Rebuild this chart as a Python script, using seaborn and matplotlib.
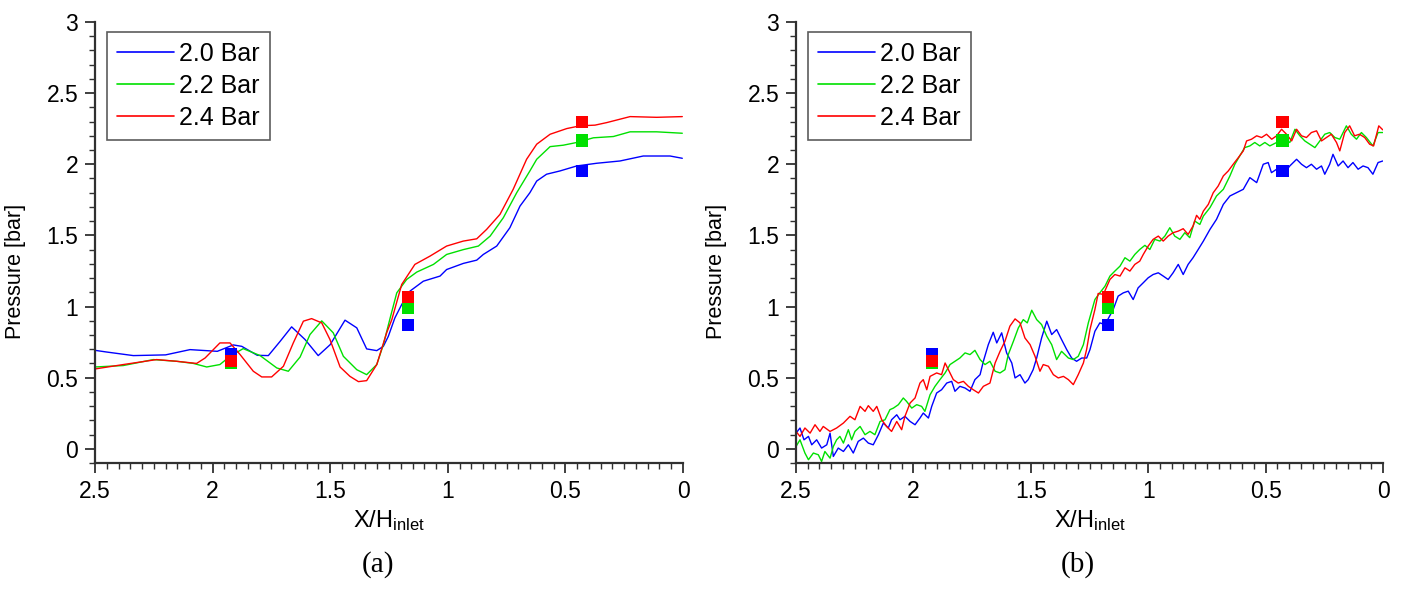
import numpy as np
import pandas as pd
import matplotlib
matplotlib.use("Agg")
import matplotlib.pyplot as plt
import seaborn as sns
from matplotlib.ticker import MultipleLocator, FuncFormatter
from matplotlib.lines import Line2D

# ---------------- data ----------------
series_labels = ["2.0 Bar", "2.2 Bar", "2.4 Bar"]
series_colors = ["#0000ff", "#00e000", "#ff0000"]

# panel (a) - smooth curves
a_blue_x = [2.5, 2.45, 2.337, 2.2, 2.096, 1.98, 1.912, 1.876, 1.81, 1.763, 1.713, 1.664, 1.607, 1.551, 1.50,
            1.437, 1.387, 1.345, 1.302, 1.274, 1.253, 1.225, 1.196, 1.161, 1.104, 1.033, 1.005, 0.934, 0.877,
            0.849, 0.792, 0.736, 0.693, 0.651, 0.622, 0.58, 0.523, 0.452, 0.367, 0.268, 0.169, 0.055, 0.003]
a_blue_y = [0.692, 0.68, 0.655, 0.66, 0.697, 0.685, 0.73, 0.72, 0.657, 0.655, 0.755, 0.857, 0.768, 0.655, 0.732,
            0.904, 0.85, 0.702, 0.69, 0.72, 0.79, 0.92, 1.014, 1.108, 1.178, 1.214, 1.26, 1.303, 1.326,
            1.366, 1.425, 1.554, 1.706, 1.80, 1.882, 1.93, 1.953, 1.988, 2.007, 2.023, 2.058, 2.058, 2.042]

a_green_x = [2.5, 2.38, 2.252, 2.153, 2.082, 2.025, 1.969, 1.926, 1.87, 1.798, 1.727, 1.678, 1.628, 1.586, 1.536,
             1.487, 1.444, 1.387, 1.345, 1.302, 1.274, 1.245, 1.217, 1.175, 1.132, 1.061, 1.005, 0.934, 0.87,
             0.82, 0.764, 0.707, 0.651, 0.622, 0.565, 0.509, 0.452, 0.381, 0.296, 0.225, 0.112, 0.003]
a_green_y = [0.575, 0.585, 0.627, 0.615, 0.60, 0.575, 0.592, 0.65, 0.704, 0.655, 0.568, 0.545, 0.645, 0.803, 0.899,
             0.815, 0.65, 0.556, 0.521, 0.592, 0.732, 0.92, 1.096, 1.19, 1.242, 1.296, 1.366, 1.40, 1.425,
             1.495, 1.624, 1.80, 1.953, 2.035, 2.124, 2.134, 2.153, 2.186, 2.195, 2.228, 2.228, 2.218]

a_red_x = [2.5, 2.38, 2.238, 2.153, 2.068, 2.032, 1.969, 1.926, 1.883, 1.827, 1.791, 1.749, 1.699, 1.657, 1.614,
           1.579, 1.536, 1.501, 1.458, 1.416, 1.38, 1.345, 1.302, 1.26, 1.238, 1.196, 1.14, 1.076, 1.005, 0.934,
           0.877, 0.835, 0.778, 0.722, 0.665, 0.622, 0.565, 0.494, 0.438, 0.374, 0.324, 0.225, 0.112, 0.003]
a_red_y = [0.561, 0.592, 0.627, 0.615, 0.60, 0.638, 0.744, 0.744, 0.662, 0.545, 0.505, 0.505, 0.58, 0.744, 0.897,
           0.915, 0.885, 0.768, 0.575, 0.509, 0.472, 0.479, 0.592, 0.815, 0.908, 1.155, 1.296, 1.354, 1.425, 1.46,
           1.476, 1.542, 1.648, 1.824, 2.035, 2.141, 2.211, 2.251, 2.27, 2.275, 2.293, 2.335, 2.33, 2.335]

# panel (b) - noisy curves
b_blue = [(2.5,0.11),(2.483,0.146),(2.466,0.063),(2.447,0.087),(2.433,0.028),(2.412,0.063),(2.391,0.005),
          (2.369,0.028),(2.355,0.11),(2.341,-0.054),(2.32,0.005),(2.298,-0.019),(2.277,0.028),(2.256,-0.03),
          (2.235,0.052),(2.213,0.075),(2.192,0.04),(2.171,0.028),(2.149,0.099),(2.128,0.181),(2.107,0.146),
          (2.093,0.204),(2.071,0.239),(2.057,0.204),(2.036,0.228),(2.014,0.192),(1.993,0.169),(1.972,0.216),
          (1.958,0.251),(1.936,0.216),(1.922,0.298),(1.901,0.392),(1.88,0.415),(1.858,0.462),(1.837,0.474),
          (1.823,0.404),(1.802,0.439),(1.78,0.427),(1.759,0.404),(1.738,0.486),(1.716,0.521),(1.702,0.615),
          (1.681,0.732),(1.66,0.819),(1.645,0.744),(1.624,0.815),(1.603,0.674),(1.581,0.603),(1.567,0.498),
          (1.546,0.521),(1.525,0.462),(1.511,0.486),(1.49,0.556),(1.475,0.638),(1.454,0.779),(1.432,0.897),
          (1.411,0.803),(1.39,0.838),(1.369,0.768),(1.347,0.697),(1.326,0.638),(1.305,0.615),(1.283,0.638),
          (1.262,0.638),(1.248,0.697),(1.227,0.826),(1.206,0.885),(1.184,0.873),(1.149,0.979),(1.128,1.073),
          (1.106,1.096),(1.085,1.108),(1.064,1.049),(1.043,1.131),(1.021,1.167),(1.0,1.202),(0.979,1.225),
          (0.957,1.237),(0.936,1.214),(0.915,1.19),(0.894,1.237),(0.872,1.296),(0.851,1.225),(0.83,1.296),
          (0.809,1.343),(0.787,1.401),(0.765,1.46),(0.737,1.542),(0.709,1.613),(0.68,1.718),(0.652,1.777),
          (0.624,1.80),(0.595,1.824),(0.567,1.906),(0.538,1.871),(0.51,2.0),(0.489,2.012),(0.475,1.941),
          (0.453,1.965),(0.425,1.93),(0.397,1.988),(0.368,2.035),(0.347,2.0),(0.326,1.976),(0.305,2.0),
          (0.283,1.965),(0.262,1.988),(0.248,1.93),(0.227,2.0),(0.213,2.07),(0.191,1.988),(0.17,2.023),
          (0.149,1.976),(0.128,2.012),(0.106,1.965),(0.085,1.988),(0.064,1.976),(0.043,1.93),(0.021,2.012),
          (0.001,2.023)]

b_green = [(2.5,0.016),(2.483,0.063),(2.462,-0.03),(2.447,-0.077),(2.426,-0.03),(2.405,-0.042),(2.391,-0.089),
           (2.377,-0.019),(2.355,-0.066),(2.341,0.016),(2.327,0.063),(2.313,0.087),(2.298,0.04),(2.277,0.134),
           (2.263,0.063),(2.249,0.122),(2.227,0.157),(2.206,0.099),(2.185,0.122),(2.164,0.099),(2.142,0.192),
           (2.121,0.204),(2.1,0.275),(2.085,0.286),(2.064,0.31),(2.043,0.357),(2.029,0.333),(2.007,0.286),
           (1.986,0.31),(1.965,0.298),(1.951,0.263),(1.929,0.38),(1.908,0.439),(1.887,0.486),(1.865,0.533),
           (1.844,0.592),(1.823,0.615),(1.802,0.638),(1.78,0.674),(1.759,0.662),(1.738,0.692),(1.716,0.627),
           (1.695,0.592),(1.674,0.615),(1.652,0.545),(1.631,0.533),(1.61,0.556),(1.596,0.662),(1.574,0.756),
           (1.553,0.85),(1.532,0.908),(1.515,0.885),(1.496,0.974),(1.475,0.908),(1.454,0.873),(1.432,0.791),
           (1.411,0.732),(1.39,0.627),(1.369,0.685),(1.34,0.638),(1.319,0.627),(1.298,0.65),(1.276,0.732),
           (1.255,0.885),(1.227,1.049),(1.206,1.096),(1.184,1.143),(1.163,1.214),(1.142,1.249),(1.12,1.284),
           (1.099,1.343),(1.078,1.319),(1.057,1.366),(1.036,1.401),(1.014,1.43),(0.993,1.401),(0.972,1.472),
           (0.95,1.46),(0.929,1.495),(0.908,1.554),(0.887,1.495),(0.865,1.472),(0.844,1.519),(0.823,1.484),
           (0.802,1.601),(0.78,1.577),(0.765,1.636),(0.737,1.695),(0.709,1.777),(0.68,1.824),(0.652,1.918),
           (0.631,2.0),(0.61,2.059),(0.589,2.117),(0.567,2.129),(0.546,2.153),(0.525,2.129),(0.503,2.153),
           (0.482,2.129),(0.453,2.153),(0.418,2.176),(0.397,2.153),(0.375,2.246),(0.354,2.2),(0.333,2.164),
           (0.312,2.141),(0.29,2.117),(0.269,2.164),(0.248,2.211),(0.227,2.223),(0.205,2.188),(0.184,2.176),
           (0.156,2.27),(0.135,2.211),(0.113,2.176),(0.092,2.223),(0.071,2.188),(0.043,2.129),(0.021,2.223),
           (0.001,2.223)]

b_red = [(2.5,0.122),(2.483,0.087),(2.462,0.146),(2.44,0.11),(2.419,0.169),(2.398,0.122),(2.384,0.157),
         (2.355,0.122),(2.327,0.146),(2.298,0.181),(2.27,0.228),(2.249,0.204),(2.227,0.298),(2.206,0.263),
         (2.192,0.303),(2.171,0.263),(2.156,0.298),(2.135,0.204),(2.114,0.157),(2.093,0.122),(2.071,0.192),
         (2.05,0.134),(2.036,0.228),(2.014,0.322),(1.993,0.357),(1.972,0.462),(1.958,0.486),(1.943,0.415),
         (1.929,0.509),(1.901,0.533),(1.88,0.521),(1.865,0.603),(1.851,0.556),(1.83,0.486),(1.809,0.462),
         (1.787,0.474),(1.766,0.439),(1.745,0.415),(1.723,0.392),(1.702,0.439),(1.674,0.462),(1.652,0.603),
         (1.631,0.685),(1.61,0.756),(1.589,0.862),(1.567,0.913),(1.546,0.885),(1.525,0.779),(1.503,0.732),
         (1.482,0.65),(1.461,0.545),(1.447,0.592),(1.425,0.58),(1.404,0.521),(1.383,0.498),(1.361,0.509),
         (1.34,0.486),(1.319,0.451),(1.298,0.521),(1.276,0.603),(1.262,0.70),(1.248,0.838),(1.227,0.979),
         (1.213,1.092),(1.191,1.085),(1.163,1.19),(1.142,1.225),(1.12,1.214),(1.099,1.272),(1.078,1.249),
         (1.057,1.296),(1.036,1.319),(1.021,1.366),(1.0,1.425),(0.979,1.472),(0.957,1.495),(0.936,1.46),
         (0.915,1.495),(0.894,1.519),(0.872,1.53),(0.851,1.547),(0.83,1.507),(0.809,1.566),(0.794,1.641),
         (0.78,1.613),(0.765,1.671),(0.744,1.718),(0.723,1.80),(0.702,1.847),(0.68,1.918),(0.659,1.953),
         (0.638,2.0),(0.616,2.047),(0.595,2.094),(0.581,2.164),(0.56,2.176),(0.538,2.2),(0.517,2.188),
         (0.496,2.211),(0.474,2.176),(0.453,2.2),(0.432,2.246),(0.411,2.211),(0.389,2.164),(0.368,2.246),
         (0.347,2.2),(0.326,2.188),(0.305,2.223),(0.283,2.235),(0.262,2.164),(0.241,2.188),(0.22,2.211),
         (0.198,2.153),(0.184,2.094),(0.163,2.223),(0.142,2.27),(0.121,2.2),(0.1,2.211),(0.078,2.188),
         (0.057,2.141),(0.04,2.129),(0.018,2.27),(0.001,2.242)]

# square markers (experimental points), same in both panels
marker_x = [1.92, 1.17, 0.428]
marker_blue = [0.665, 0.868, 1.955]
marker_green = [0.60, 0.99, 2.167]
marker_red = [0.62, 1.065, 2.295]

x_ticks = [2.5, 2.0, 1.5, 1.0, 0.5, 0.0]
y_ticks = [0, 0.5, 1, 1.5, 2, 2.5, 3]

# ---------------- style ----------------
sns.set_style("ticks")
plt.rcParams["font.family"] = ["Liberation Sans", "DejaVu Sans"]
plt.rcParams["mathtext.default"] = "regular"
plt.rcParams["text.color"] = "black"
plt.rcParams["axes.labelcolor"] = "black"
plt.rcParams["xtick.labelcolor"] = "black"
plt.rcParams["ytick.labelcolor"] = "black"

fig = plt.figure(figsize=(14.08, 5.89), dpi=100)
W, H = 1408, 589
ax_a = fig.add_axes([95 / W, 1 - 463 / H, 588 / W, 441 / H])
ax_b = fig.add_axes([796 / W, 1 - 463 / H, 587 / W, 441 / H])

panel_a = [(a_blue_x, a_blue_y), (a_green_x, a_green_y), (a_red_x, a_red_y)]
panel_b = [tuple(zip(*b_blue)), tuple(zip(*b_green)), tuple(zip(*b_red))]
markers = [marker_blue, marker_green, marker_red]

axis_col = "#303030"

for ax, panel in [(ax_a, panel_a), (ax_b, panel_b)]:
    frames = []
    for lab, (xs, ys) in zip(series_labels, panel):
        frames.append(pd.DataFrame({"x": list(xs), "p": list(ys), "series": lab}))
    df = pd.concat(frames, ignore_index=True)
    sns.lineplot(data=df, x="x", y="p", hue="series", palette=dict(zip(series_labels, series_colors)),
                 estimator=None, sort=False, linewidth=1.0, ax=ax, legend=False)
    mdf = pd.concat([pd.DataFrame({"x": marker_x, "p": m, "series": lab})
                     for lab, m in zip(series_labels, markers)], ignore_index=True)
    sns.scatterplot(data=mdf, x="x", y="p", hue="series", palette=dict(zip(series_labels, series_colors)),
                    marker="s", s=75, linewidth=0, ax=ax, legend=False, zorder=5)

    ax.set_xlim(2.5, 0.0)
    ax.set_ylim(-0.1, 3.0)
    ax.set_xticks(x_ticks)
    ax.set_yticks(y_ticks)
    ax.xaxis.set_minor_locator(MultipleLocator(0.05))
    ax.yaxis.set_minor_locator(MultipleLocator(0.1))
    fmt = FuncFormatter(lambda v, p: "%g" % v)
    ax.xaxis.set_major_formatter(fmt)
    ax.yaxis.set_major_formatter(fmt)
    ax.tick_params(axis="both", which="major", direction="out", length=7, width=1.3,
                   colors=axis_col, labelcolor="black", labelsize=16.5, pad=5)
    ax.tick_params(axis="both", which="minor", direction="out", length=4, width=1.0, colors=axis_col)
    for s in ["top", "right"]:
        ax.spines[s].set_visible(False)
    for s in ["left", "bottom"]:
        ax.spines[s].set_color(axis_col)
        ax.spines[s].set_linewidth(1.6)

    ax.set_xlabel("X/H$_{inlet}$", fontsize=17, labelpad=4, color="black")
    ax.set_ylabel("Pressure [bar]", fontsize=15.5, color="black")
    ax.yaxis.set_label_coords(-0.118, 0.435)

    handles = [Line2D([0], [0], color=c, lw=1.2) for c in series_colors]
    leg = ax.legend(handles, series_labels, loc="upper left", bbox_to_anchor=(0.02, 0.978),
                    borderaxespad=0, fontsize=18, frameon=True, fancybox=False, edgecolor="#333333",
                    handlelength=2.3, handletextpad=0.2, labelspacing=0.32, borderpad=0.4,
                    labelcolor="black")
    leg.get_frame().set_linewidth(1.2)

fig.text(378 / W, 1 - 565 / H, "(a)", ha="center", va="center", fontsize=21, color="black",
         family=["Liberation Serif", "DejaVu Serif"])
fig.text(1078 / W, 1 - 565 / H, "(b)", ha="center", va="center", fontsize=21, color="black",
         family=["Liberation Serif", "DejaVu Serif"])

fig.savefig("out.png", dpi=100, facecolor="white")
